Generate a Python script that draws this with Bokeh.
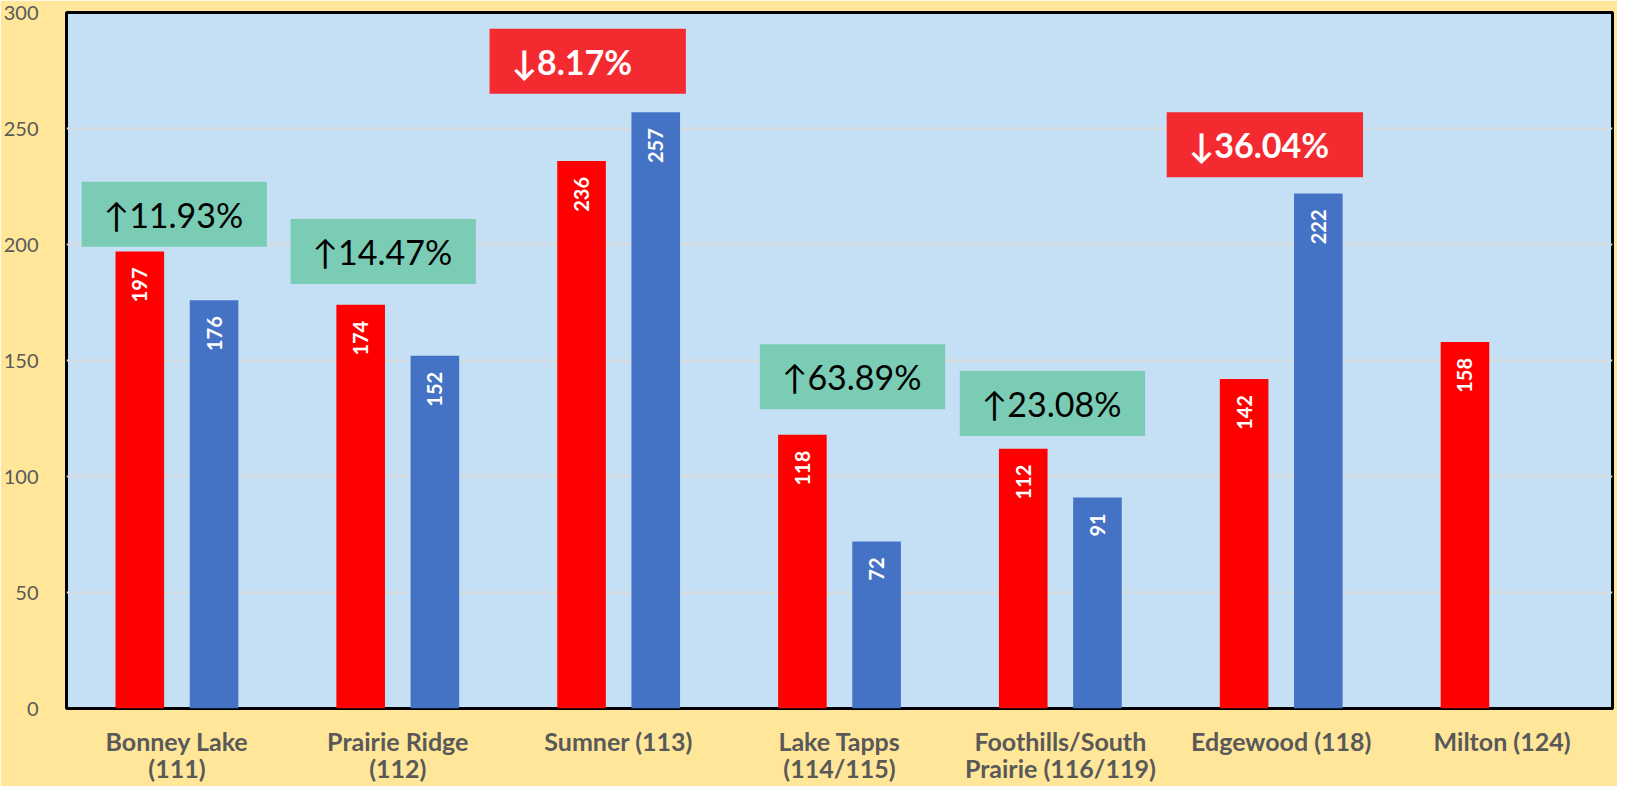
import math
from bokeh.plotting import figure
from bokeh.models import ColumnDataSource, FixedTicker, Range1d
from bokeh.core.properties import value
from bokeh.embed import file_html
from bokeh.resources import INLINE

# ---- data ----
categories = ["Bonney Lake\n(111)", "Prairie Ridge\n(112)", "Sumner (113)",
              "Lake Tapps\n(114/115)", "Foothills/South\nPrairie (116/119)",
              "Edgewood (118)", "Milton (124)"]
red_values = [197, 174, 236, 118, 112, 142, 158]
blue_values = [176, 152, 257, 72, 91, 222, None]
change_labels = ["↑11.93%", "↑14.47%", "↓8.17%", "↑63.89%", "↑23.08%", "↓36.04%", None]
y_ticks = [0, 50, 100, 150, 200, 250, 300]

# ---- layout of the change boxes (placement only) ----
box_dx = [-0.012, -0.066, -0.14, 0.059, -0.036, -0.074]   # shift from category centre
box_gap = [2, 9, 8, 11, 5.5, 7]                            # gap above the taller bar
BOX_H = 28
BAR_W = 0.22
BAR_OFF = 0.168

FONT = "Lato"
RED = "#FF0000"
BLUE = "#4472C4"
UP_FILL = "#7ACCB5"
DOWN_FILL = "#F42A31"

p = figure(width=1617, height=786,
           x_range=Range1d(0, len(categories)), y_range=Range1d(0, 300),
           output_backend="svg", toolbar_location=None,
           min_border_left=60, min_border_right=5, min_border_top=12, min_border_bottom=76,
           background_fill_color="#C5E0F5", border_fill_color="#FFE699",
           outline_line_color="black", outline_line_width=3)

centers = [i + 0.5 for i in range(len(categories))]

# bars
red_src = ColumnDataSource(dict(x=[c - BAR_OFF for c in centers], top=red_values,
                                lab=[str(v) for v in red_values]))
bx, bt, bl = [], [], []
for c, v in zip(centers, blue_values):
    if v is not None:
        bx.append(c + BAR_OFF); bt.append(v); bl.append(str(v))
blue_src = ColumnDataSource(dict(x=bx, top=bt, lab=bl))

p.vbar(x="x", top="top", width=BAR_W, source=red_src, fill_color=RED, line_color=None)
p.vbar(x="x", top="top", width=BAR_W, source=blue_src, fill_color=BLUE, line_color=None)

for src in (red_src, blue_src):
    p.text(x="x", y="top", text="lab", source=src, angle=math.pi / 2,
           text_align="right", text_baseline="middle", y_offset=16,
           text_color="white", text_font=value(FONT), text_font_style="bold",
           text_font_size="20px")

# change boxes
rx, ry, rw, rc, tx, tc, ts, tl = [], [], [], [], [], [], [], []
for i, lab in enumerate(change_labels):
    if lab is None:
        continue
    up = lab.startswith("↑")
    w = 0.839 if up else 0.889
    top_bar = max(red_values[i], blue_values[i])
    cx = centers[i] + box_dx[i]
    cy = top_bar + box_gap[i] + BOX_H / 2
    rx.append(cx); ry.append(cy); rw.append(w)
    rc.append(UP_FILL if up else DOWN_FILL)
    tx.append(cx - w / 2)
    tc.append("black" if up else "white")
    ts.append("normal" if up else "bold")
    tl.append(lab)
box_src = ColumnDataSource(dict(x=rx, y=ry, w=rw, c=rc, tx=tx, tc=tc, ts=ts, tl=tl))
p.rect(x="x", y="y", width="w", height=BOX_H, source=box_src,
       fill_color="c", line_color=None)
p.text(x="tx", y="y", text="tl", source=box_src, x_offset=22,
       text_align="left", text_baseline="middle", text_color="tc",
       text_font_style="ts", text_font=value(FONT), text_font_size="34px")

# axes
p.yaxis.ticker = FixedTicker(ticks=y_ticks)
p.yaxis.axis_line_color = None
p.yaxis.major_tick_line_color = None
p.yaxis.minor_tick_line_color = None
p.yaxis.major_label_text_font = FONT
p.yaxis.major_label_text_font_size = "20px"
p.yaxis.major_label_text_color = "#595959"
p.yaxis.major_label_standoff = 22

p.xaxis.ticker = FixedTicker(ticks=centers)
p.xaxis.major_label_overrides = {c: lab for c, lab in zip(centers, categories)}
p.xaxis.axis_line_color = None
p.xaxis.major_tick_line_color = None
p.xaxis.minor_tick_line_color = None
p.xaxis.major_label_text_font = FONT
p.xaxis.major_label_text_font_style = "bold"
p.xaxis.major_label_text_font_size = "25px"
p.xaxis.major_label_text_color = "#595959"
p.xaxis.major_label_text_line_height = 0.92
p.xaxis.major_label_standoff = 11

p.xgrid.visible = False
p.ygrid.grid_line_color = "#D9D9D9"
p.ygrid.grid_line_width = 2

open("out.html", "w").write(file_html(p, INLINE))
